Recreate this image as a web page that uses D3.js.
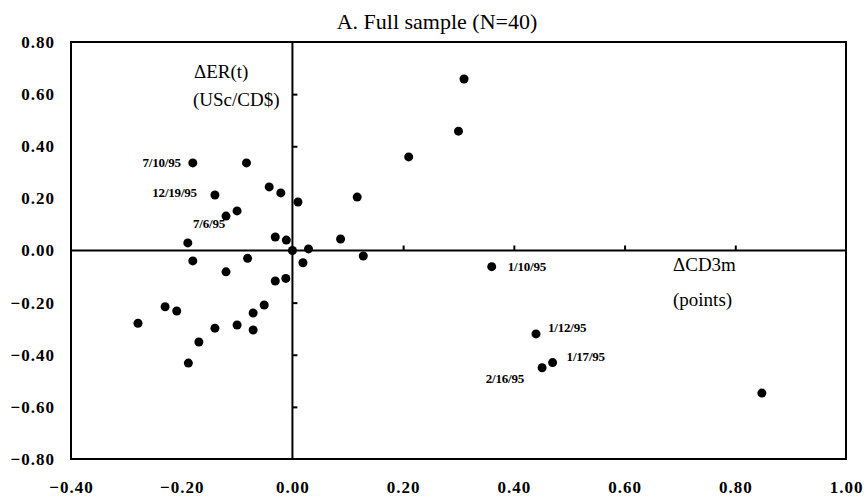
<!DOCTYPE html>
<html>
<head>
    <script src="https://cdnjs.cloudflare.com/ajax/libs/d3/7.8.5/d3.min.js"></script>
    <style>
        body { margin: 0; background: #fff; }
        svg { font-family: "Liberation Serif", "Times New Roman", serif; }
        .tick text { font-size: 17px; font-weight: bold; letter-spacing: 1px; fill: #000; }
        .datelab { font-size: 13px; font-weight: bold; letter-spacing: -0.2px; }
    </style>
</head>
<body>
    <div id="chart"></div>
    <script>
        const width = 867, height = 503;
        const margin = { top: 42, right: 21, bottom: 44, left: 71 };

        // ΔCD3m (x) and ΔER(t) (y), 40 observations
        const xVals = [-0.18, -0.083, -0.14, -0.042, -0.021, 0.01, -0.10, -0.12, -0.189, -0.031,
                       -0.011, 0.00, 0.029, 0.087, 0.117, 0.21, 0.31, 0.30, -0.18, -0.081,
                       -0.12, 0.019, 0.128, -0.031, -0.012, -0.23, -0.209, -0.279, -0.051, -0.071,
                       -0.14, -0.10, -0.071, -0.169, -0.188, 0.36, 0.44, 0.47, 0.451, 0.848];
        const yVals = [0.336, 0.336, 0.213, 0.244, 0.221, 0.186, 0.152, 0.132, 0.029, 0.052,
                       0.040, 0.00, 0.006, 0.044, 0.205, 0.359, 0.658, 0.458, -0.04, -0.03,
                       -0.082, -0.047, -0.021, -0.117, -0.107, -0.216, -0.232, -0.279, -0.209, -0.24,
                       -0.298, -0.286, -0.305, -0.351, -0.432, -0.062, -0.32, -0.43, -0.45, -0.547];
        const dates = ["7/10/95", "", "12/19/95", "", "", "", "", "7/6/95", "", "",
                       "", "", "", "", "", "", "", "", "", "",
                       "", "", "", "", "", "", "", "", "", "",
                       "", "", "", "", "", "1/10/95", "1/12/95", "1/17/95", "2/16/95", ""];
        const xTicks = [-0.4, -0.2, 0, 0.2, 0.4, 0.6, 0.8, 1.0];
        const yTicks = [0.8, 0.6, 0.4, 0.2, 0, -0.2, -0.4, -0.6, -0.8];

        const points = xVals.map((v, i) => ({ x: v, y: yVals[i], date: dates[i] }));

        // where each date label sits relative to its dot
        const labelPos = {
            "7/10/95": { dx: -12, dy: 4, anchor: "end" },
            "12/19/95": { dx: -18, dy: 2, anchor: "end" },
            "7/6/95": { dx: -33, dy: 12, anchor: "start" },
            "1/10/95": { dx: 16, dy: 4, anchor: "start" },
            "1/12/95": { dx: 12, dy: -2, anchor: "start" },
            "1/17/95": { dx: 14, dy: -2, anchor: "start" },
            "2/16/95": { dx: -18, dy: 15, anchor: "end" }
        };

        const svg = d3.select("#chart").append("svg")
            .attr("width", width).attr("height", height);

        const x = d3.scaleLinear().domain([-0.4, 1.0]).range([margin.left, width - margin.right]);
        const y = d3.scaleLinear().domain([-0.8, 0.8]).range([height - margin.bottom, margin.top]);

        svg.append("text")
            .attr("x", 437).attr("y", 29)
            .attr("text-anchor", "middle")
            .attr("font-size", 22)
            .text("A. Full sample (N=40)");

        const serif = "'Liberation Serif', 'Times New Roman', serif";

        // outer tick labels
        svg.append("g")
            .attr("transform", `translate(${margin.left},0)`)
            .call(d3.axisLeft(y).tickValues(yTicks).tickSize(0).tickPadding(16).tickFormat(d3.format(".2f")))
            .attr("font-family", serif)
            .call(g => g.select(".domain").remove());

        svg.append("g")
            .attr("transform", `translate(0,${height - margin.bottom})`)
            .call(d3.axisBottom(x).tickValues(xTicks).tickSize(0).tickPadding(22).tickFormat(d3.format(".2f")))
            .attr("font-family", serif)
            .call(g => g.select(".domain").remove());

        // frame
        svg.append("rect")
            .attr("x", x(-0.4)).attr("y", y(0.8))
            .attr("width", x(1.0) - x(-0.4)).attr("height", y(-0.8) - y(0.8))
            .attr("fill", "none").attr("stroke", "#000").attr("stroke-width", 2);

        // inner axes through the origin
        svg.append("g")
            .attr("transform", `translate(0,${y(0)})`)
            .call(d3.axisTop(x).tickValues([0.2, 0.4, 0.6, 0.8]).tickSize(5).tickFormat(""))
            .call(g => g.select(".domain").attr("d", `M${x(-0.4)},0H${x(1.0)}`).attr("stroke-width", 2))
            .call(g => g.selectAll(".tick line").attr("stroke-width", 2));

        svg.append("g")
            .attr("transform", `translate(${x(0)},0)`)
            .call(d3.axisRight(y).tickValues([0.6, 0.4, -0.2, -0.4, -0.6]).tickSize(5).tickFormat(""))
            .call(g => g.select(".domain").attr("d", `M0,${y(0.8)}V${y(-0.8)}`).attr("stroke-width", 2))
            .call(g => g.selectAll(".tick line").attr("stroke-width", 2));

        // axis captions
        svg.append("text").attr("x", 194).attr("y", 78).attr("font-size", 19).text("ΔER(t)");
        svg.append("text").attr("x", 193).attr("y", 106).attr("font-size", 19).text("(USc/CD$)");
        svg.append("text").attr("x", 673).attr("y", 271).attr("font-size", 19).text("ΔCD3m");
        svg.append("text").attr("x", 673).attr("y", 306).attr("font-size", 19).text("(points)");

        svg.append("g")
            .selectAll("circle")
            .data(points)
            .enter().append("circle")
            .attr("cx", d => x(d.x))
            .attr("cy", d => y(d.y))
            .attr("r", 4.5)
            .attr("fill", "#000");

        svg.append("g")
            .selectAll("text")
            .data(points.filter(d => d.date))
            .enter().append("text")
            .attr("class", "datelab")
            .attr("x", d => x(d.x) + labelPos[d.date].dx)
            .attr("y", d => y(d.y) + labelPos[d.date].dy)
            .attr("text-anchor", d => labelPos[d.date].anchor)
            .text(d => d.date);
    </script>
</body>
</html>
